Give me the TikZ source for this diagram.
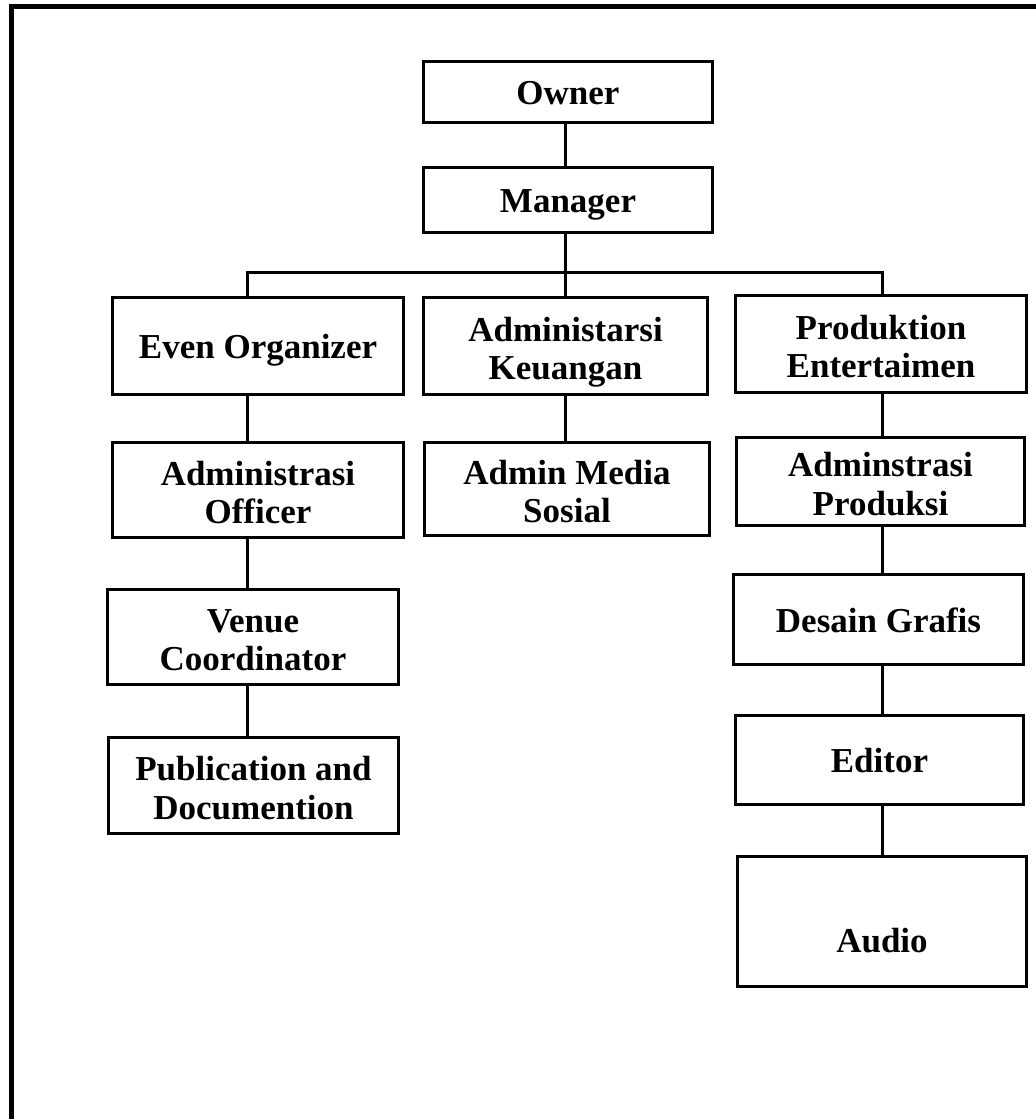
\documentclass[tikz,border=0pt]{standalone}
\usepackage{fontspec}
\setmainfont{Liberation Serif}
\newcommand\twolines[2]{\begin{tabular}[b]{@{}c@{}}#1\\#2\end{tabular}}
\begin{document}
\begin{tikzpicture}[x=1pt,y=-1pt,
  box/.style={draw=black,line width=3pt,align=center,inner sep=0pt,
    font=\fontsize{35}{38.5}\selectfont\bfseries},
  oneline/.style={text height=25pt,text depth=0pt},
  twoline/.style={text height=67.5pt,text depth=0pt},
  conn/.style={line width=3pt}]
\useasboundingbox (0,0) rectangle (1036,1119);
\fill[white] (0,0) rectangle (1036,1119);
% frame
\draw[line width=5pt] (11.5,1119) -- (11.5,6.5) -- (1036,6.5);
% nodes
\node[box,oneline,minimum width=289pt,minimum height=61pt] (own) at (568,92) {Owner};
\node[box,oneline,minimum width=289pt,minimum height=65pt] (mgr) at (568,200) {Manager};
\node[box,oneline,minimum width=291pt,minimum height=97pt] (eo) at (258,346) {Even Organizer};
\node[box,twoline,minimum width=284pt,minimum height=97pt] (ak) at (565.5,346) {\twolines{Administarsi}{Keuangan}};
\node[box,twoline,minimum width=291pt,minimum height=97pt] (pe) at (881,344) {\twolines{Produktion}{Entertaimen}};
\node[box,twoline,minimum width=291pt,minimum height=95pt] (ao) at (258,490) {\twolines{Administrasi}{Officer}};
\node[box,twoline,minimum width=285pt,minimum height=93pt] (ams) at (567,489) {\twolines{Admin Media}{Sosial}};
\node[box,twoline,minimum width=288pt,minimum height=88pt] (ap) at (880.5,481.5) {\twolines{Adminstrasi}{Produksi}};
\node[box,twoline,minimum width=291pt,minimum height=95pt] (vc) at (253,637) {\twolines{Venue}{Coordinator}};
\node[box,twoline,minimum width=290pt,minimum height=96pt] (pd) at (253.5,785.5) {\twolines{Publication and}{Documention}};
\node[box,oneline,minimum width=290pt,minimum height=90pt] (dg) at (878.5,619.5) {Desain Grafis};
\node[box,oneline,minimum width=288pt,minimum height=89pt] (ed) at (879.5,760) {Editor};
\node[box,text height=61pt,text depth=0pt,minimum width=289pt,minimum height=130pt] (au) at (882,921.5) {Audio};
% column coordinates
\coordinate (cM) at (565,272);
\coordinate (cL) at (247,272);
\coordinate (cR) at (882,272);
% connectors
\draw[conn] (own.south -| cM) -- (mgr.north -| cM);
\draw[conn] (mgr.south -| cM) -- (ak.north -| cM);
\draw[conn] (eo.north -| cL) -- (cL) -- (cR) -- (pe.north -| cR);
\draw[conn] (eo.south -| cL) -- (ao.north -| cL);
\draw[conn] (ao.south -| cL) -- (vc.north -| cL);
\draw[conn] (vc.south -| cL) -- (pd.north -| cL);
\draw[conn] (ak.south -| cM) -- (ams.north -| cM);
\draw[conn] (pe.south -| cR) -- (ap.north -| cR);
\draw[conn] (ap.south -| cR) -- (dg.north -| cR);
\draw[conn] (dg.south -| cR) -- (ed.north -| cR);
\draw[conn] (ed.south -| cR) -- (au.north -| cR);
\end{tikzpicture}
\end{document}
